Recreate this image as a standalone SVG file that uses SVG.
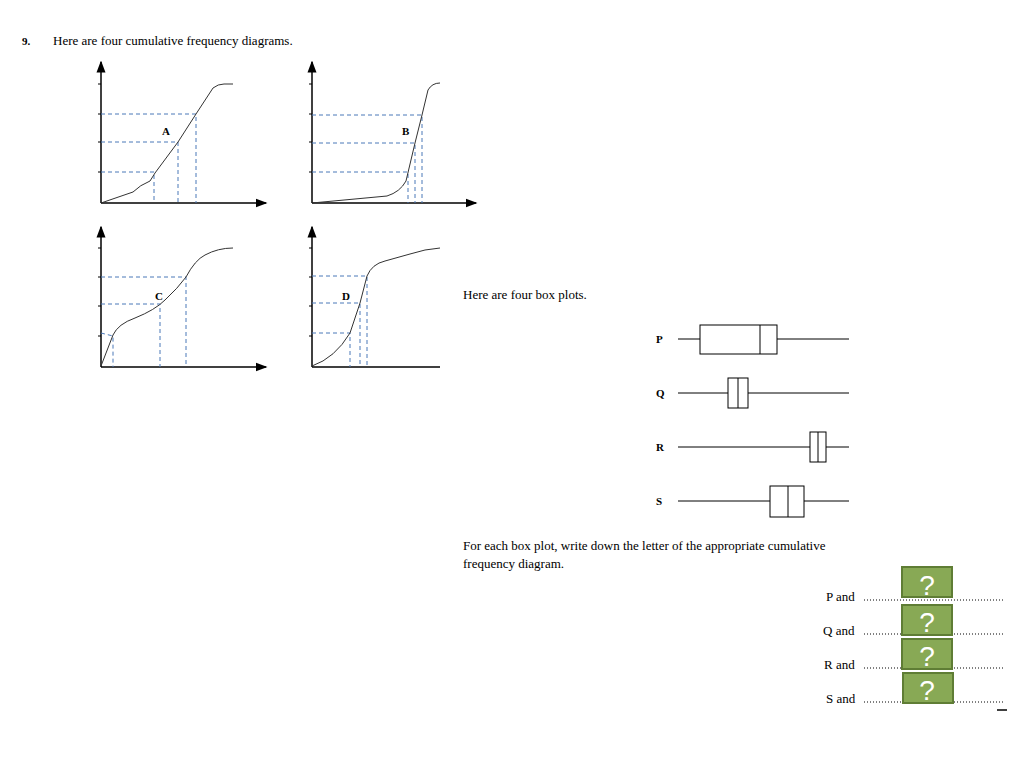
<svg xmlns="http://www.w3.org/2000/svg" width="1024" height="768" viewBox="0 0 1024 768">
<style>
.t{font-family:"Liberation Serif",serif;font-size:13px;fill:#000}
.b{font-weight:bold;font-size:11px}
.ax{stroke:#000;stroke-width:1.5;fill:none}
.tk{stroke:#000;stroke-width:1}
.d{stroke:#4a78b8;stroke-width:1;stroke-dasharray:4,3;fill:none}
.c{stroke:#333;stroke-width:1;fill:none}
.bp{stroke:#000;stroke-width:1;fill:none}
.g{fill:#88a955;stroke:#5f7d35;stroke-width:2}
.q{font-family:"Liberation Sans",sans-serif;font-size:28px;fill:#fff}
.dot{stroke:#000;stroke-width:1;stroke-dasharray:1,2}
</style>
<defs><marker id="ar" viewBox="0 0 8 8" refX="7" refY="4" markerWidth="8" markerHeight="8" orient="auto"><path d="M0,1 L8,4 L0,7 Z" fill="#000"/></marker></defs>
<text class="t b" x="22" y="45">9.</text>
<text class="t" x="53" y="45" font-size="11">Here are four cumulative frequency diagrams.</text>
<g id="chartA">
<path class="ax" d="M101,203 V62" marker-end="url(#ar)"/><path class="ax" d="M101,203 H266" marker-end="url(#ar)"/>
<path class="tk" d="M98,84H101M98,114H101M98,142H101M98,172H101"/>
<path class="d" d="M101,114H196V203M101,142H178V203M101,172H154V203"/>
<path class="c" d="M101,203 L133,192 Q140,185 150,181 L155,173 L178,142 L196,114 L213,88 Q218,84 224,84 L233,84"/>
<text class="t b" x="162" y="135">A</text>
</g>
<g id="chartB">
<path class="ax" d="M312,203 V62" marker-end="url(#ar)"/><path class="ax" d="M312,203 H476" marker-end="url(#ar)"/>
<path class="tk" d="M309,84H312M309,114H312M309,142H312M309,172H312"/>
<path class="d" d="M312,115H422V203M312,143H415V203M312,172H408V203"/>
<path class="c" d="M312,203 L387,196 Q400,192 406,181 L415,143 L422,115 L428,90 Q432,83 440,83"/>
<text class="t b" x="402" y="135">B</text>
</g>
<g id="chartC">
<path class="ax" d="M101,367 V227" marker-end="url(#ar)"/><path class="ax" d="M101,367 H266" marker-end="url(#ar)"/>
<path class="tk" d="M98,248H101M98,277H101M98,306H101M98,336H101"/>
<path class="d" d="M101,277H186V367M101,304H160V367M101,333L113,336V367"/>
<path class="c" d="M101,366 L113,335 Q118,324 135,318 Q155,310 165,300 Q178,288 186,277 Q195,260 205,255 Q218,248 233,248"/>
<text class="t b" x="155" y="300">C</text>
</g>
<g id="chartD">
<path class="ax" d="M312,367 V227" marker-end="url(#ar)"/><path class="ax" d="M312,367 H440"/>
<path class="tk" d="M309,248H312M309,277H312M309,306H312M309,336H312"/>
<path class="d" d="M312,276H367V367M312,303H360V367M312,333H350V367"/>
<path class="c" d="M312,366 Q335,358 350,333 L360,303 L367,276 Q372,264 385,261 L410,254 Q425,249 440,248"/>
<text class="t b" x="342" y="300">D</text>
</g>
<text class="t" x="463" y="299">Here are four box plots.</text>
<g id="P"><text class="t b" x="656" y="343">P</text><path class="bp" d="M678,339H700M777,339H849"/><rect class="bp" x="700" y="325" width="77" height="29"/><path class="bp" d="M760,325V354"/></g>
<g id="Q"><text class="t b" x="656" y="397">Q</text><path class="bp" d="M678,393H728M748,393H849"/><rect class="bp" x="728" y="378" width="20" height="30"/><path class="bp" d="M738,378V408"/></g>
<g id="R"><text class="t b" x="656" y="451">R</text><path class="bp" d="M678,447H810M826,447H849"/><rect class="bp" x="810" y="432" width="16" height="30"/><path class="bp" d="M818,432V462"/></g>
<g id="S"><text class="t b" x="656" y="505">S</text><path class="bp" d="M678,501H770M804,501H849"/><rect class="bp" x="770" y="486" width="34" height="31"/><path class="bp" d="M788,486V517"/></g>
<text class="t" x="463" y="550">For each box plot, write down the letter of the appropriate cumulative</text>
<text class="t" x="463" y="568">frequency diagram.</text>
<g id="answers">
<text class="t" x="826" y="601">P and</text><path class="dot" d="M864,600H1004"/>
<text class="t" x="823" y="635">Q and</text><path class="dot" d="M864,634H1004"/>
<text class="t" x="824" y="669">R and</text><path class="dot" d="M864,668H1004"/>
<text class="t" x="826" y="703">S and</text><path class="dot" d="M864,702H1004"/>
<path stroke="#000" stroke-width="1.5" d="M997,710H1007"/>
</g>
<g id="q1"><rect class="g" x="902" y="567" width="50" height="30"/><text class="q" x="927" y="595" text-anchor="middle">?</text></g>
<g id="q2"><rect class="g" x="902" y="605" width="50" height="30"/><text class="q" x="927" y="632" text-anchor="middle">?</text></g>
<g id="q3"><rect class="g" x="902" y="639" width="50" height="30"/><text class="q" x="927" y="666" text-anchor="middle">?</text></g>
<g id="q4"><rect class="g" x="903" y="673" width="50" height="30"/><text class="q" x="927" y="700" text-anchor="middle">?</text></g>
</svg>
